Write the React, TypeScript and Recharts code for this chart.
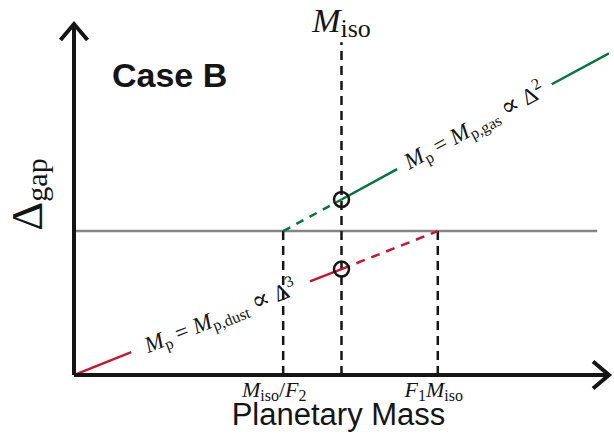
import React from 'react'
import { LineChart, Line, XAxis, YAxis, ReferenceDot } from 'recharts'

// units: M_iso sits at x = 5, gap threshold at y ≈ 2.46
const threshold = [{ x: 0, y: 2.46 }, { x: 9.78, y: 2.46 }]
const dustSolidA = [{ x: 0, y: 0 }, { x: 1.07, y: 0.39 }]
const dustSolidB = [{ x: 4.41, y: 1.6 }, { x: 5, y: 1.81 }]
const dustDashed = [{ x: 5, y: 1.81 }, { x: 6.8, y: 2.46 }]
const gasDashed = [{ x: 3.91, y: 2.46 }, { x: 5, y: 3.0 }]
const gasSolidA = [{ x: 5, y: 3.0 }, { x: 6.04, y: 3.52 }]
const gasSolidB = [{ x: 8.93, y: 4.97 }, { x: 10, y: 5.5 }]
const guideF2 = [{ x: 3.91, y: 0 }, { x: 3.91, y: 2.46 }]
const guideIso = [{ x: 5, y: 0 }, { x: 5, y: 5.69 }]
const guideF1 = [{ x: 6.8, y: 0 }, { x: 6.8, y: 2.46 }]
const crossings = [{ x: 5, y: 3.0 }, { x: 5, y: 1.81 }]
const tickValues = [3.91, 6.8]
const dustLabelAt = { x: 2.74, y: 0.99 }
const gasLabelAt = { x: 7.49, y: 4.25 }

type Seg = { t: string; i?: boolean; sub?: boolean; sup?: boolean; big?: boolean }

const tickLabels: Seg[][] = [
  [{ t: 'M', i: true }, { t: 'iso', sub: true }, { t: '/' }, { t: 'F', i: true }, { t: '2', sub: true }],
  [{ t: 'F', i: true }, { t: '1', sub: true }, { t: 'M', i: true }, { t: 'iso', sub: true }],
]
const gasEq: Seg[] = [
  { t: 'M', i: true }, { t: 'p', sub: true }, { t: '\u00a0=\u00a0' }, { t: 'M', i: true },
  { t: 'p,gas', sub: true }, { t: '\u00a0' }, { t: '\u221d', big: true }, { t: '\u00a0' },
  { t: '\u0394' }, { t: '2', sup: true },
]
const dustEq: Seg[] = [
  { t: 'M', i: true }, { t: 'p', sub: true }, { t: '\u00a0=\u00a0' }, { t: 'M', i: true },
  { t: 'p,dust', sub: true }, { t: '\u00a0' }, { t: '\u221d', big: true }, { t: '\u00a0' },
  { t: '\u0394' }, { t: '3', sup: true },
]
const isoTitle: Seg[] = [{ t: 'M', i: true }, { t: 'iso', sub: true }]
const yTitle: Seg[] = [{ t: '\u0394' }, { t: 'gap', sub: true }]

const serif = '"Liberation Serif", "DejaVu Serif", serif'
const sans = '"Liberation Sans", Arial, sans-serif'
const ink = '#151515'

function MathText(p: {
  x: number; y: number; size: number; small: number; segs: Seg[]
  angle?: number; shift?: number; sub?: number; anchor?: string
}) {
  const { x, y, size, small, segs, angle = 0, shift = 0, anchor = 'middle' } = p
  const subDrop = p.sub ?? size * 0.18
  let level = 0
  return (
    <text
      x={x}
      y={y + shift}
      textAnchor={anchor as any}
      fontFamily={serif}
      fontSize={size}
      fill={ink}
      transform={angle ? `rotate(${angle} ${x} ${y})` : undefined}
    >
      {segs.map((s, k) => {
        const target = s.sub ? subDrop : s.sup ? -size * 0.42 : 0
        const d = target - level
        level = target
        const fs = s.sub || s.sup ? small : s.big ? size * 1.15 : size
        return (
          <tspan key={k} dy={d || undefined} fontSize={fs} fontStyle={s.i ? 'italic' : 'normal'}>
            {s.t}
          </tspan>
        )
      })}
    </text>
  )
}

const centre = (vb: any) => ({ cx: vb.x + vb.width / 2, cy: vb.y + vb.height / 2 })

const Tick = (props: any) => {
  const { x, y, index } = props
  const nudge = index === 0 ? -9 : -4
  return <MathText x={x + nudge} y={y + 14} size={22} small={16} segs={tickLabels[index]} sub={4} />
}

export default function App() {
  return (
    <div style={{ position: 'absolute', left: 0, top: 0, width: 614, height: 442, background: '#fff' }}>
      <svg width={0} height={0} style={{ position: 'absolute' }}>
        <defs>
          <marker id="axisArrow" markerUnits="userSpaceOnUse" markerWidth={40} markerHeight={40} refX={20} refY={20} orient="auto-start-reverse">
            <path d="M 4 6.5 L 20 20 L 4 33.5" fill="none" stroke={ink} strokeWidth={4} />
          </marker>
        </defs>
      </svg>
      <LineChart width={614} height={442} margin={{ top: 24, right: 5, bottom: 27, left: 34 }}>
        <XAxis
          dataKey="x"
          type="number"
          domain={[0, 10]}
          allowDataOverflow
          height={40}
          ticks={tickValues}
          interval={0}
          tickLine={false}
          tick={<Tick />}
          axisLine={{ stroke: ink, strokeWidth: 4, markerEnd: 'url(#axisArrow)' } as any}
          label={{
            content: (lp: any) => {
              const vb = lp.viewBox
              return (
                <text x={vb.x + vb.width / 2 - 3} y={vb.y + 50} textAnchor="middle" fontFamily={sans} fontSize={31} fill={ink}>
                  Planetary Mass
                </text>
              )
            },
          }}
        />
        <YAxis
          type="number"
          domain={[0, 6]}
          allowDataOverflow
          width={40}
          tick={false}
          tickLine={false}
          axisLine={{ stroke: ink, strokeWidth: 4, markerStart: 'url(#axisArrow)' } as any}
          label={{
            content: (lp: any) => {
              const vb = lp.viewBox
              return <MathText x={vb.x + 8} y={vb.y + vb.height / 2 - 5} size={45} small={30} segs={yTitle} angle={-90} sub={5} />
            },
          }}
        />
        <Line data={threshold} dataKey="y" stroke="#858585" strokeWidth={2.5} dot={false} activeDot={false} isAnimationActive={false} />
        <Line data={guideF2} dataKey="y" stroke={ink} strokeWidth={2.5} strokeDasharray="9 6" dot={false} activeDot={false} isAnimationActive={false} />
        <Line data={guideIso} dataKey="y" stroke={ink} strokeWidth={2.5} strokeDasharray="9 6" dot={false} activeDot={false} isAnimationActive={false} />
        <Line data={guideF1} dataKey="y" stroke={ink} strokeWidth={2.5} strokeDasharray="9 6" dot={false} activeDot={false} isAnimationActive={false} />
        <Line data={dustSolidA} dataKey="y" stroke="#c8162f" strokeWidth={2.5} dot={false} activeDot={false} isAnimationActive={false} />
        <Line data={dustSolidB} dataKey="y" stroke="#c8162f" strokeWidth={2.5} dot={false} activeDot={false} isAnimationActive={false} />
        <Line data={dustDashed} dataKey="y" stroke="#c8162f" strokeWidth={2.5} strokeDasharray="9 7" dot={false} activeDot={false} isAnimationActive={false} />
        <Line data={gasDashed} dataKey="y" stroke="#00773b" strokeWidth={2.5} strokeDasharray="8 7" dot={false} activeDot={false} isAnimationActive={false} />
        <Line data={gasSolidA} dataKey="y" stroke="#00773b" strokeWidth={2.5} dot={false} activeDot={false} isAnimationActive={false} />
        <Line data={gasSolidB} dataKey="y" stroke="#00773b" strokeWidth={2.5} dot={false} activeDot={false} isAnimationActive={false} />
        {crossings.map((c, k) => (
          <ReferenceDot key={k} x={c.x} y={c.y} r={7.5} fill="none" stroke={ink} strokeWidth={2.5} />
        ))}
        <ReferenceDot
          x={guideIso[1].x}
          y={guideIso[1].y}
          r={1}
          fill="none"
          stroke="none"
          label={{
            content: (lp: any) => {
              const { cx, cy } = centre(lp.viewBox)
              return <MathText x={cx} y={cy - 10} size={34} small={26} segs={isoTitle} sub={5} />
            },
          }}
        />
        <ReferenceDot
          x={gasLabelAt.x}
          y={gasLabelAt.y}
          r={1}
          fill="none"
          stroke="none"
          label={{
            content: (lp: any) => {
              const { cx, cy } = centre(lp.viewBox)
              return <MathText x={cx} y={cy} size={23} small={16} segs={gasEq} angle={-28.5} shift={7} />
            },
          }}
        />
        <ReferenceDot
          x={dustLabelAt.x}
          y={dustLabelAt.y}
          r={1}
          fill="none"
          stroke="none"
          label={{
            content: (lp: any) => {
              const { cx, cy } = centre(lp.viewBox)
              return <MathText x={cx} y={cy} size={23} small={16} segs={dustEq} angle={-21.6} shift={7} />
            },
          }}
        />
      </LineChart>
      <div
        style={{
          position: 'absolute',
          left: 112,
          top: 58,
          fontFamily: sans,
          fontWeight: 700,
          fontSize: 34,
          lineHeight: 1,
          color: ink,
        }}
      >
        Case B
      </div>
    </div>
  )
}
